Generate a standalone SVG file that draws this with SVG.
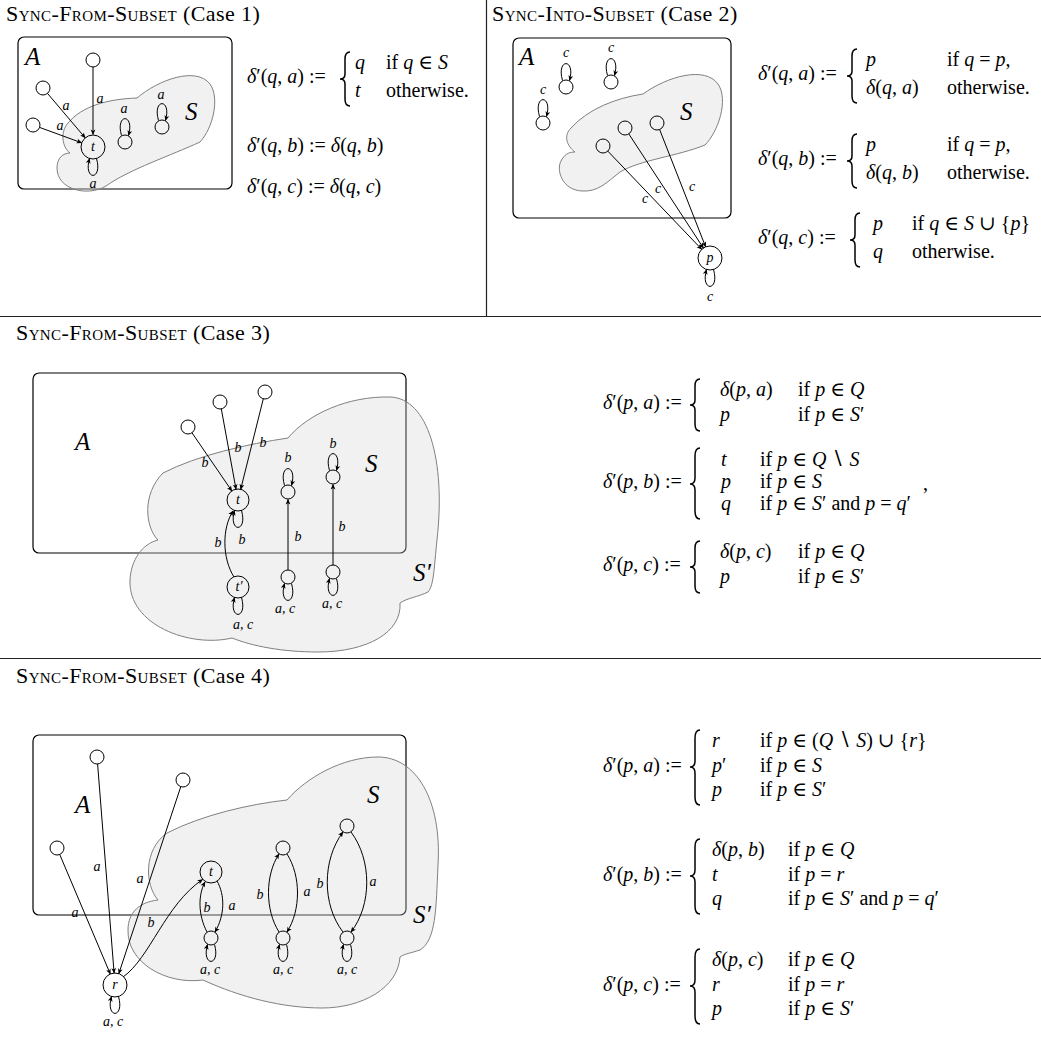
<svg xmlns="http://www.w3.org/2000/svg" width="1041" height="1039" viewBox="0 0 1041 1039">
<defs>
<marker id="ah" viewBox="-6 -3 7 6" refX="0" refY="0" markerWidth="7" markerHeight="6" markerUnits="userSpaceOnUse" orient="auto">
<path d="M0.6,0 L-5,-2.4 L-3.6,0 L-5,2.4 Z" fill="#000"/>
</marker>
</defs>
<style>
.t{font-family:"Liberation Serif","DejaVu Serif",serif;font-size:22px;letter-spacing:0.4px}
.sc{font-variant:small-caps}
.m{font-family:"Liberation Serif","DejaVu Serif",serif;font-size:20px}
.i{font-style:italic}
.big{font-family:"Liberation Serif","DejaVu Serif",serif;font-style:italic;font-size:25px}
.lb{font-family:"Liberation Serif","DejaVu Serif",serif;font-style:italic;font-size:14px;text-anchor:middle}
.box{fill:none;stroke:#000;stroke-width:1.2}
.cloud{fill:#d4d4d4;fill-opacity:0.33;stroke:#808080;stroke-width:1}
.n{fill:none;stroke:#000;stroke-width:1}
.e{fill:none;stroke:#000;stroke-width:1;marker-end:url(#ah)}
.br{fill:none;stroke:#000;stroke-width:1.5}
.rule{stroke:#222;stroke-width:1.2}
</style>
<rect width="1041" height="1039" fill="#fff"/>

<g id="rules">
<line class="rule" x1="486.5" y1="0" x2="486.5" y2="316.5"/>
<line class="rule" x1="0" y1="316.5" x2="1041" y2="316.5"/>
<line class="rule" x1="0" y1="658.5" x2="1041" y2="658.5"/>
</g>

<g id="titles">
<text class="t" x="6" y="21"><tspan class="sc">Sync-From-Subset</tspan> (Case 1)</text>
<text class="t" x="492" y="21"><tspan class="sc">Sync-Into-Subset</tspan> (Case 2)</text>
<text class="t" x="16" y="340"><tspan class="sc">Sync-From-Subset</tspan> (Case 3)</text>
<text class="t" x="16" y="683"><tspan class="sc">Sync-From-Subset</tspan> (Case 4)</text>
</g>

<!-- ============ Panel 1 ============ -->
<g id="panel1">
<rect class="box" x="18" y="37" width="214" height="152" rx="6"/>
<path class="cloud" d="M68,123 C82,106 108,99 137,98 C158,80 196,66 210,84 C220,98 213,128 200,142 C172,155 128,170 106,186 C88,197 57,190 57,168 C57,158 63,153 70,153 C62,147 60,132 68,123 Z"/>
<text class="big" x="25" y="65">A</text>
<text class="big" x="185" y="120">S</text>
<g id="p1-n1"><circle class="n" cx="93" cy="60" r="7"/></g>
<g id="p1-n2"><circle class="n" cx="43" cy="88" r="7"/></g>
<g id="p1-n3"><circle class="n" cx="33" cy="125" r="7"/></g>
<g id="p1-t"><circle class="n" cx="93" cy="147" r="12"/><text class="lb" x="93" y="151">t</text></g>
<g id="p1-s1"><circle class="n" cx="125" cy="142" r="7"/></g>
<g id="p1-s2"><circle class="n" cx="162" cy="127" r="7"/></g>
<g id="p1-edges">
<path class="e" d="M93,67 L93,134.5"/>
<path class="e" d="M47.5,93.4 L85.2,137.8"/>
<path class="e" d="M39.6,127.4 L81.6,142.8"/>
<path class="e" d="M96.5,158.5 C103,181 83,181 89.5,158.5"/>
<path class="e" d="M121.5,135.5 C115,113 135,113 128.5,135.5"/>
<path class="e" d="M158.5,120.5 C152,98 172,98 165.5,120.5"/>
<text class="lb" x="100" y="103">a</text>
<text class="lb" x="66" y="110">a</text>
<text class="lb" x="60" y="130">a</text>
<text class="lb" x="93" y="188">a</text>
<text class="lb" x="124" y="113">a</text>
<text class="lb" x="161" y="99">a</text>
</g>
<g id="p1-formulas" class="m">
<text x="247" y="83"><tspan class="i">δ</tspan>′(<tspan class="i">q</tspan>, <tspan class="i">a</tspan>) :=</text>
<path class="br" d="M350,52 Q345,52 345,59 L345,74 Q345,79 340,79 Q345,79 345,84 L345,99 Q345,106 350,106"/>
<text x="355" y="69"><tspan class="i">q</tspan></text>
<text x="386" y="69">if <tspan class="i">q</tspan> ∈ <tspan class="i">S</tspan></text>
<text x="355" y="97"><tspan class="i">t</tspan></text>
<text x="386" y="97">otherwise.</text>
<text x="247" y="152"><tspan class="i">δ</tspan>′(<tspan class="i">q</tspan>, <tspan class="i">b</tspan>) := <tspan class="i">δ</tspan>(<tspan class="i">q</tspan>, <tspan class="i">b</tspan>)</text>
<text x="247" y="193"><tspan class="i">δ</tspan>′(<tspan class="i">q</tspan>, <tspan class="i">c</tspan>) := <tspan class="i">δ</tspan>(<tspan class="i">q</tspan>, <tspan class="i">c</tspan>)</text>
</g>
</g>

<!-- ============ Panel 2 ============ -->
<g id="panel2">
<rect class="box" x="513" y="38" width="218" height="180" rx="6"/>
<path class="cloud" d="M571,128 C588,109 616,98 643,94 C668,76 705,66 718,84 C729,100 718,132 705,145 C678,156 640,160 620,172 C606,183 598,192 582,191 C562,190 556,170 561,161 C564,155 568,152 575,152 C567,146 563,136 571,128 Z"/>
<text class="big" x="519" y="65">A</text>
<text class="big" x="680" y="120">S</text>
<g id="p2-n1"><circle class="n" cx="566" cy="87" r="7"/></g>
<g id="p2-n2"><circle class="n" cx="611" cy="82" r="7"/></g>
<g id="p2-n3"><circle class="n" cx="543" cy="123" r="7"/></g>
<g id="p2-s1"><circle class="n" cx="603" cy="146" r="7"/></g>
<g id="p2-s2"><circle class="n" cx="625" cy="128" r="7"/></g>
<g id="p2-s3"><circle class="n" cx="657" cy="123" r="7"/></g>
<g id="p2-p"><circle class="n" cx="710" cy="258" r="12"/><text class="lb" x="710" y="262">p</text></g>
<g id="p2-edges">
<path class="e" d="M607.8,151.1 L701.7,249.3"/>
<path class="e" d="M628.8,133.9 L703.4,248"/>
<path class="e" d="M659.6,129.5 L705.6,246.8"/>
<path class="e" d="M562.5,80.5 C556,58 576,58 569.5,80.5"/>
<path class="e" d="M607.5,75.5 C601,53 621,53 614.5,75.5"/>
<path class="e" d="M539.5,116.5 C533,94 553,94 546.5,116.5"/>
<path class="e" d="M713.5,269.5 C720,292 700,292 706.5,269.5"/>
<text class="lb" x="645" y="203">c</text>
<text class="lb" x="658" y="193">c</text>
<text class="lb" x="692" y="191">c</text>
<text class="lb" x="566" y="57">c</text>
<text class="lb" x="611" y="52">c</text>
<text class="lb" x="543" y="94">c</text>
<text class="lb" x="710" y="301">c</text>
</g>
<g id="p2-formulas" class="m">
<text x="758" y="80"><tspan class="i">δ</tspan>′(<tspan class="i">q</tspan>, <tspan class="i">a</tspan>) :=</text>
<path class="br" d="M857,49 Q852,49 852,56 L852,71 Q852,76 847,76 Q852,76 852,81 L852,96 Q852,103 857,103"/>
<text x="866" y="66"><tspan class="i">p</tspan></text>
<text x="947" y="66">if <tspan class="i">q</tspan> = <tspan class="i">p</tspan>,</text>
<text x="866" y="94"><tspan class="i">δ</tspan>(<tspan class="i">q</tspan>, <tspan class="i">a</tspan>)</text>
<text x="947" y="94">otherwise.</text>
<text x="758" y="165"><tspan class="i">δ</tspan>′(<tspan class="i">q</tspan>, <tspan class="i">b</tspan>) :=</text>
<path class="br" d="M857,134 Q852,134 852,141 L852,156 Q852,161 847,161 Q852,161 852,166 L852,181 Q852,188 857,188"/>
<text x="866" y="151"><tspan class="i">p</tspan></text>
<text x="947" y="151">if <tspan class="i">q</tspan> = <tspan class="i">p</tspan>,</text>
<text x="866" y="179"><tspan class="i">δ</tspan>(<tspan class="i">q</tspan>, <tspan class="i">b</tspan>)</text>
<text x="947" y="179">otherwise.</text>
<text x="758" y="244"><tspan class="i">δ</tspan>′(<tspan class="i">q</tspan>, <tspan class="i">c</tspan>) :=</text>
<path class="br" d="M860,213 Q855,213 855,220 L855,235 Q855,240 850,240 Q855,240 855,245 L855,260 Q855,267 860,267"/>
<text x="873" y="230"><tspan class="i">p</tspan></text>
<text x="912" y="230">if <tspan class="i">q</tspan> ∈ <tspan class="i">S</tspan> ∪ {<tspan class="i">p</tspan>}</text>
<text x="873" y="258"><tspan class="i">q</tspan></text>
<text x="912" y="258">otherwise.</text>
</g>
</g>

<!-- ============ Panel 3 ============ -->
<g id="panel3">
<rect class="box" x="33" y="373" width="373" height="180" rx="6"/>
<path class="cloud" d="M163,473 C198,455 248,444 288,438 C308,414 348,396 390,397 C428,398 446,460 437,540 C434,568 434,585 428,592 C418,597 407,598 400,603 C402,632 368,652 318,652 C282,652 252,646 232,638 C190,648 128,625 130,580 C131,560 142,544 158,540 C145,527 142,494 163,473 Z"/>
<text class="big" x="75" y="450">A</text>
<text class="big" x="365" y="472">S</text>
<text class="big" x="413" y="581">S′</text>
<g id="p3-n1"><circle class="n" cx="188" cy="427" r="7"/></g>
<g id="p3-n2"><circle class="n" cx="220" cy="402" r="7"/></g>
<g id="p3-n3"><circle class="n" cx="265" cy="392" r="7"/></g>
<g id="p3-t"><circle class="n" cx="238" cy="500" r="11"/><text class="lb" x="238" y="504">t</text></g>
<g id="p3-s1"><circle class="n" cx="288" cy="492" r="7"/></g>
<g id="p3-s2"><circle class="n" cx="333" cy="477" r="7"/></g>
<g id="p3-tp"><circle class="n" cx="238" cy="587" r="11"/><text class="lb" x="239" y="591">t′</text></g>
<g id="p3-b1"><circle class="n" cx="288" cy="577" r="7"/></g>
<g id="p3-b2"><circle class="n" cx="333" cy="572" r="7"/></g>
<g id="p3-edges">
<path class="e" d="M192,432.8 L231.8,490.9"/>
<path class="e" d="M221.3,408.9 L236,489.2"/>
<path class="e" d="M263.3,398.8 L240.7,489.3"/>
<path class="e" d="M288,570 L288,499.5"/>
<path class="e" d="M333,565 L333,484.5"/>
<path class="e" d="M234,577 C222,558 222,528 233,511"/>
<path class="e" d="M241.5,510.5 C248,533 228,533 234.5,510.5"/>
<path class="e" d="M241.5,597.5 C248,620 228,620 234.5,597.5"/>
<path class="e" d="M284.5,485.5 C278,463 298,463 291.5,485.5"/>
<path class="e" d="M329.5,470.5 C323,448 343,448 336.5,470.5"/>
<path class="e" d="M291.5,583.5 C298,606 278,606 284.5,583.5"/>
<path class="e" d="M336.5,578.5 C343,601 323,601 329.5,578.5"/>
<text class="lb" x="205" y="467">b</text>
<text class="lb" x="238" y="452">b</text>
<text class="lb" x="263" y="447">b</text>
<text class="lb" x="242" y="544">b</text>
<text class="lb" x="218" y="547">b</text>
<text class="lb" x="288" y="462">b</text>
<text class="lb" x="333" y="448">b</text>
<text class="lb" x="298" y="541">b</text>
<text class="lb" x="342" y="531">b</text>
<text class="lb" x="285" y="613">a, c</text>
<text class="lb" x="332" y="608">a, c</text>
<text class="lb" x="243" y="629">a, c</text>
</g>
<g id="p3-formulas" class="m">
<text x="603" y="409"><tspan class="i">δ</tspan>′(<tspan class="i">p</tspan>, <tspan class="i">a</tspan>) :=</text>
<path class="br" d="M700,379 Q695,379 695,386 L695,400 Q695,405 690,405 Q695,405 695,410 L695,424 Q695,431 700,431"/>
<text x="720" y="396"><tspan class="i">δ</tspan>(<tspan class="i">p</tspan>, <tspan class="i">a</tspan>)</text>
<text x="798" y="396">if <tspan class="i">p</tspan> ∈ <tspan class="i">Q</tspan></text>
<text x="720" y="421"><tspan class="i">p</tspan></text>
<text x="798" y="421">if <tspan class="i">p</tspan> ∈ <tspan class="i">S</tspan>′</text>
<text x="603" y="488"><tspan class="i">δ</tspan>′(<tspan class="i">p</tspan>, <tspan class="i">b</tspan>) :=</text>
<path class="br" d="M700,448 Q695,448 695,456 L695,478 Q695,484 690,484 Q695,484 695,490 L695,511 Q695,519 700,519"/>
<text x="721" y="466"><tspan class="i">t</tspan></text>
<text x="760" y="466">if <tspan class="i">p</tspan> ∈ <tspan class="i">Q</tspan> ∖ <tspan class="i">S</tspan></text>
<text x="721" y="488"><tspan class="i">p</tspan></text>
<text x="760" y="488">if <tspan class="i">p</tspan> ∈ <tspan class="i">S</tspan></text>
<text x="721" y="510"><tspan class="i">q</tspan></text>
<text x="760" y="510">if <tspan class="i">p</tspan> ∈ <tspan class="i">S</tspan>′ and <tspan class="i">p</tspan> = <tspan class="i">q</tspan>′</text>
<text x="923" y="490">,</text>
<text x="603" y="571"><tspan class="i">δ</tspan>′(<tspan class="i">p</tspan>, <tspan class="i">c</tspan>) :=</text>
<path class="br" d="M700,541 Q695,541 695,548 L695,562 Q695,567 690,567 Q695,567 695,572 L695,586 Q695,593 700,593"/>
<text x="720" y="558"><tspan class="i">δ</tspan>(<tspan class="i">p</tspan>, <tspan class="i">c</tspan>)</text>
<text x="798" y="558">if <tspan class="i">p</tspan> ∈ <tspan class="i">Q</tspan></text>
<text x="720" y="583"><tspan class="i">p</tspan></text>
<text x="798" y="583">if <tspan class="i">p</tspan> ∈ <tspan class="i">S</tspan>′</text>
</g>
</g>

<!-- ============ Panel 4 ============ -->
<g id="panel4">
<rect class="box" x="33" y="735" width="373" height="180" rx="6"/>
<path class="cloud" d="M167,833 C202,815 250,804 287,800 C306,778 342,757 378,757 C416,757 442,800 438,865 C436,910 436,940 420,950 C411,953 404,954 400,957 C398,988 362,1008 322,1008 C282,1008 240,997 203,980 C165,985 127,962 128,930 C128,912 140,902 158,900 C145,885 143,850 167,833 Z"/>
<text class="big" x="75" y="813">A</text>
<text class="big" x="367" y="803">S</text>
<text class="big" x="413" y="923">S′</text>
<g id="p4-m1"><circle class="n" cx="97" cy="757" r="7"/></g>
<g id="p4-m2"><circle class="n" cx="183" cy="780" r="7"/></g>
<g id="p4-m3"><circle class="n" cx="57" cy="848" r="7"/></g>
<g id="p4-t"><circle class="n" cx="211" cy="872" r="11"/><text class="lb" x="211" y="876">t</text></g>
<g id="p4-r"><circle class="n" cx="115" cy="985" r="12"/><text class="lb" x="115" y="989">r</text></g>
<g id="p4-u"><circle class="n" cx="211" cy="938" r="7"/></g>
<g id="p4-v1"><circle class="n" cx="283" cy="848" r="7"/></g>
<g id="p4-v2"><circle class="n" cx="283" cy="938" r="7"/></g>
<g id="p4-w1"><circle class="n" cx="347" cy="826" r="7"/></g>
<g id="p4-w2"><circle class="n" cx="347" cy="938" r="7"/></g>
<g id="p4-edges">
<path class="e" d="M97.6,764 L114.1,973"/>
<path class="e" d="M180.8,786.6 L118.8,973.6"/>
<path class="e" d="M59.7,854.4 L110.3,974"/>
<path class="e" d="M123,977 C150,958 165,905 202.5,879.5"/>
<path class="e" d="M207,932 C198,915 198,895 205,882"/>
<path class="e" d="M217,881 C225,895 225,915 215,932"/>
<path class="e" d="M279,932 C265,910 265,875 279,854"/>
<path class="e" d="M287,854 C301,876 301,910 287,932"/>
<path class="e" d="M343,932 C322,905 322,860 343,832"/>
<path class="e" d="M351,832 C372,860 372,905 351,932"/>
<path class="e" d="M214.5,944.5 C221,967 201,967 207.5,944.5"/>
<path class="e" d="M286.5,944.5 C293,967 273,967 279.5,944.5"/>
<path class="e" d="M350.5,944.5 C357,967 337,967 343.5,944.5"/>
<path class="e" d="M118.5,996.5 C125,1019 105,1019 111.5,996.5"/>
<text class="lb" x="97" y="871">a</text>
<text class="lb" x="140" y="883">a</text>
<text class="lb" x="75" y="917">a</text>
<text class="lb" x="151" y="927">b</text>
<text class="lb" x="207" y="912">b</text>
<text class="lb" x="232" y="910">a</text>
<text class="lb" x="260" y="899">b</text>
<text class="lb" x="307" y="896">a</text>
<text class="lb" x="320" y="888">b</text>
<text class="lb" x="373" y="886">a</text>
<text class="lb" x="210" y="974">a, c</text>
<text class="lb" x="283" y="974">a, c</text>
<text class="lb" x="347" y="974">a, c</text>
<text class="lb" x="113" y="1026">a, c</text>
</g>
<g id="p4-formulas" class="m">
<text x="603" y="771.5"><tspan class="i">δ</tspan>′(<tspan class="i">p</tspan>, <tspan class="i">a</tspan>) :=</text>
<path class="br" d="M700,730 Q695,730 695,738 L695,761 Q695,767 690,767 Q695,767 695,773 L695,797 Q695,805 700,805"/>
<text x="712" y="747"><tspan class="i">r</tspan></text>
<text x="760" y="747">if <tspan class="i">p</tspan> ∈ (<tspan class="i">Q</tspan> ∖ <tspan class="i">S</tspan>) ∪ {<tspan class="i">r</tspan>}</text>
<text x="712" y="771.5"><tspan class="i">p</tspan>′</text>
<text x="760" y="771.5">if <tspan class="i">p</tspan> ∈ <tspan class="i">S</tspan></text>
<text x="712" y="796"><tspan class="i">p</tspan></text>
<text x="760" y="796">if <tspan class="i">p</tspan> ∈ <tspan class="i">S</tspan>′</text>
<text x="603" y="880.5"><tspan class="i">δ</tspan>′(<tspan class="i">p</tspan>, <tspan class="i">b</tspan>) :=</text>
<path class="br" d="M700,839 Q695,839 695,847 L695,870 Q695,876 690,876 Q695,876 695,882 L695,906 Q695,914 700,914"/>
<text x="712" y="856"><tspan class="i">δ</tspan>(<tspan class="i">p</tspan>, <tspan class="i">b</tspan>)</text>
<text x="788" y="856">if <tspan class="i">p</tspan> ∈ <tspan class="i">Q</tspan></text>
<text x="712" y="880.5"><tspan class="i">t</tspan></text>
<text x="788" y="880.5">if <tspan class="i">p</tspan> = <tspan class="i">r</tspan></text>
<text x="712" y="905"><tspan class="i">q</tspan></text>
<text x="788" y="905">if <tspan class="i">p</tspan> ∈ <tspan class="i">S</tspan>′ and <tspan class="i">p</tspan> = <tspan class="i">q</tspan>′</text>
<text x="603" y="990.5"><tspan class="i">δ</tspan>′(<tspan class="i">p</tspan>, <tspan class="i">c</tspan>) :=</text>
<path class="br" d="M700,949 Q695,949 695,957 L695,980 Q695,986 690,986 Q695,986 695,992 L695,1016 Q695,1024 700,1024"/>
<text x="712" y="966"><tspan class="i">δ</tspan>(<tspan class="i">p</tspan>, <tspan class="i">c</tspan>)</text>
<text x="788" y="966">if <tspan class="i">p</tspan> ∈ <tspan class="i">Q</tspan></text>
<text x="712" y="990.5"><tspan class="i">r</tspan></text>
<text x="788" y="990.5">if <tspan class="i">p</tspan> = <tspan class="i">r</tspan></text>
<text x="712" y="1015"><tspan class="i">p</tspan></text>
<text x="788" y="1015">if <tspan class="i">p</tspan> ∈ <tspan class="i">S</tspan>′</text>
</g>
</g>
</svg>
